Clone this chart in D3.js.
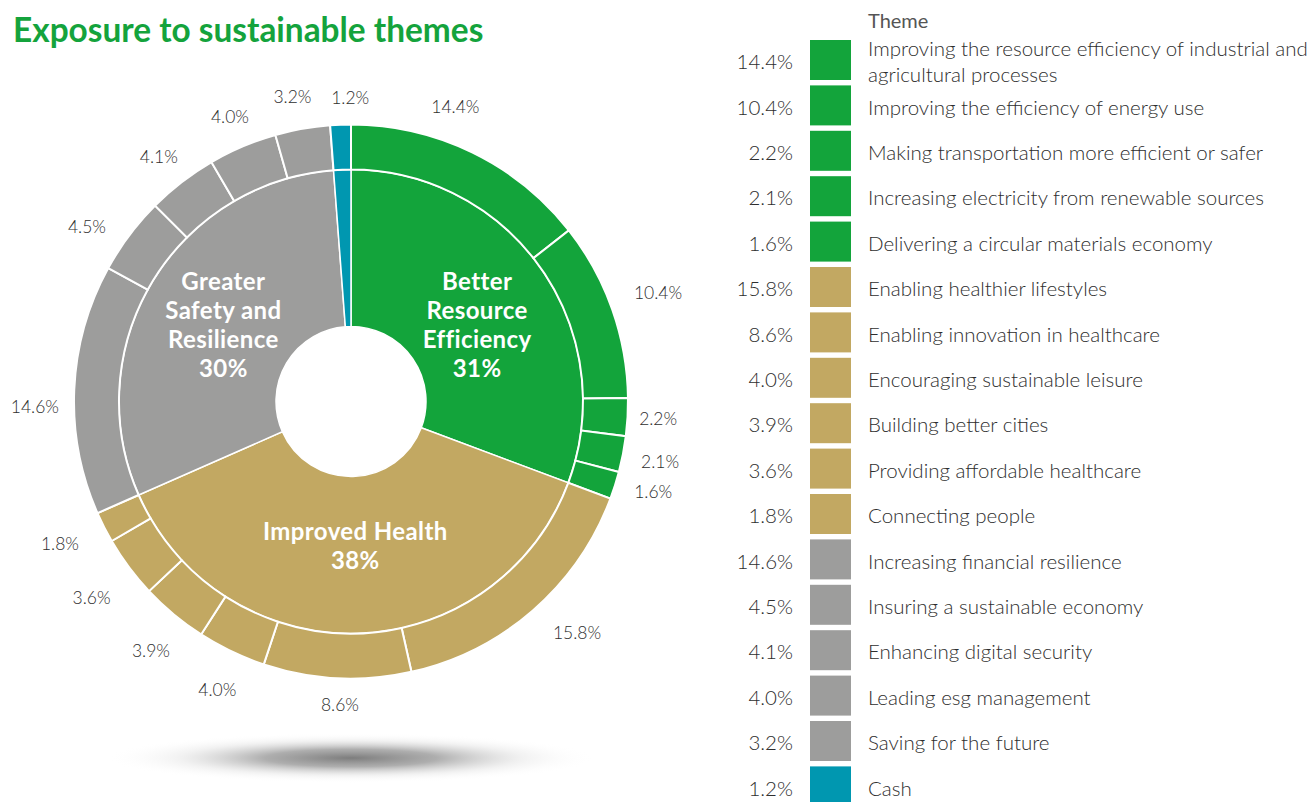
<!DOCTYPE html>
<html><head><meta charset="utf-8">
<script src="https://cdn.jsdelivr.net/npm/d3@7"></script>
<style>
html,body{margin:0;padding:0;background:#fff;}
svg{display:block;}
</style></head>
<body>
<svg id="chart" width="1307" height="802"></svg>
<script>
const title = "Exposure to sustainable themes";
const legendTitle = "Theme";
const themes = [
  "Improving the resource efficiency of industrial and\nagricultural processes",
  "Improving the efficiency of energy use",
  "Making transportation more efficient or safer",
  "Increasing electricity from renewable sources",
  "Delivering a circular materials economy",
  "Enabling healthier lifestyles",
  "Enabling innovation in healthcare",
  "Encouraging sustainable leisure",
  "Building better cities",
  "Providing affordable healthcare",
  "Connecting people",
  "Increasing financial resilience",
  "Insuring a sustainable economy",
  "Enhancing digital security",
  "Leading esg management",
  "Saving for the future",
  "Cash"
];
const values = [14.4,10.4,2.2,2.1,1.6,15.8,8.6,4.0,3.9,3.6,1.8,14.6,4.5,4.1,4.0,3.2,1.2];
const themeGroup = [0,0,0,0,0,1,1,1,1,1,1,2,2,2,2,2,3];
const groupNames = ["Better Resource Efficiency","Improved Health","Greater Safety and Resilience","Cash"];
const groupLabelLines = [["Better","Resource","Efficiency","31%"],["Improved Health","38%"],["Greater","Safety and","Resilience","30%"],[]];
const groupColors = ["#13a43b","#c2a862","#9d9d9c","#0097b0"];

const svg = d3.select("#chart");
const fontMain = "'Lato','Open Sans',sans-serif";
const cx = 351, cy = 401.5;
const rHole = 75, rMid = 232, rOuter = 277;

// shadow
const defs = svg.append("defs");
const rg = defs.append("radialGradient").attr("id","shadow");
rg.append("stop").attr("offset","0%").attr("stop-color","#7d7d7d").attr("stop-opacity",1);
rg.append("stop").attr("offset","35%").attr("stop-color","#9a9a9a").attr("stop-opacity",0.8);
rg.append("stop").attr("offset","70%").attr("stop-color","#d3d3d3").attr("stop-opacity",0.3);
rg.append("stop").attr("offset","100%").attr("stop-color","#ffffff").attr("stop-opacity",0);
svg.append("ellipse").attr("cx",cx).attr("cy",758).attr("rx",245).attr("ry",25).attr("fill","url(#shadow)");

// title
svg.append("text").attr("x",13).attr("y",42).text(title)
  .attr("font-family",fontMain).attr("font-weight",700).attr("font-size",33.4)
  .attr("fill","#14a33c");

const g = svg.append("g").attr("transform",`translate(${cx},${cy})`);

// inner ring
const groupSums = groupNames.map((n,i)=>d3.sum(values.filter((v,j)=>themeGroup[j]===i)));
const pie = d3.pie().sort(null).value(d=>d);
const innerArcs = pie(groupSums);
const innerArc = d3.arc().innerRadius(rHole).outerRadius(rMid);
g.selectAll("path.inner").data(innerArcs).join("path").attr("class","inner")
  .attr("d",innerArc).attr("fill",(d,i)=>groupColors[i])
  .attr("stroke","#fff").attr("stroke-width",1.5);

// outer ring
const outerArcs = pie(values);
const outerArc = d3.arc().innerRadius(rMid).outerRadius(rOuter);
g.selectAll("path.outer").data(outerArcs).join("path").attr("class","outer")
  .attr("d",outerArc).attr("fill",(d,i)=>groupColors[themeGroup[i]])
  .attr("stroke","#fff").attr("stroke-width",2);

// outer labels: placed at the slice mid-angle, with small layout nudges [deg, px]
const labelNudge = {0:[-6.4,4],1:[0,10],2:[0,-6],4:[-1,0],5:[-3.3,9],6:[-0.8,2],7:[-0.7,8],8:[-1,6],
  9:[-0.4,10],10:[1,8],11:[-3.5,3],12:[-3.4,1],13:[-0.5,-2],14:[0,0],15:[-0.8,5],16:[2,3]};
const fmt = v=>v.toFixed(1)+"%";
g.selectAll("text.olab").data(outerArcs).join("text").attr("class","olab")
  .each(function(d,i){
    const n = labelNudge[i]||[0,0];
    const a=(d.startAngle+d.endAngle)/2 + n[0]*Math.PI/180;
    const r=289+24*Math.abs(Math.sin(a))+12*Math.abs(Math.cos(a)) + n[1];
    d3.select(this).attr("x",r*Math.sin(a)).attr("y",-r*Math.cos(a));
  })
  .attr("dy","0.36em").attr("text-anchor","middle")
  .attr("font-family",fontMain).attr("font-weight",300).attr("font-size",17.5)
  .attr("fill","#2e2e2e").text(d=>fmt(d.data));

// inner labels
innerArcs.forEach((d,i)=>{
  const lines=groupLabelLines[i]; if(!lines.length) return;
  const c=innerArc.centroid(d);
  const lh=29;
  const t=g.append("text").attr("text-anchor","middle")
    .attr("font-family",fontMain).attr("font-weight",700).attr("font-size",24)
    .attr("fill","#fff").attr("letter-spacing","0.4px");
  const yc = i===1 ? c[1]-9 : -76;
  const y0=yc - (lines.length-1)*lh/2;
  lines.forEach((l,k)=>t.append("tspan").attr("x",c[0]+(i===2?4:0)).attr("y",y0+k*lh).attr("dy","0.35em").text(l));
});

// legend
const lg = svg.append("g");
lg.append("text").attr("x",868).attr("y",28).text(legendTitle)
  .attr("font-family",fontMain).attr("font-weight",400).attr("font-size",20).attr("fill","#555");
const rowY = d3.scaleBand().domain(d3.range(themes.length)).range([40, 40+45.4*themes.length]).paddingInner(0);
themes.forEach((t,i)=>{
  const y=rowY(i), h=40, yc=y+h/2;
  lg.append("rect").attr("x",810).attr("y",y).attr("width",41).attr("height",h).attr("fill",groupColors[themeGroup[i]]);
  lg.append("text").attr("x",793).attr("y",yc).attr("dy","0.45em").attr("text-anchor","end")
    .attr("font-family",fontMain).attr("font-weight",300).attr("font-size",20.5).attr("fill","#2e2e2e").text(fmt(values[i]));
  const lines=t.split("\n");
  const tx=lg.append("text").attr("font-family",fontMain).attr("font-weight",300).attr("font-size",20.5).attr("fill","#2e2e2e");
  lines.forEach((l,k)=>tx.append("tspan").attr("x",868).attr("y",yc+(k-(lines.length-1)/2)*25.5).attr("dy","0.45em").text(l));
});
</script>
</body></html>
